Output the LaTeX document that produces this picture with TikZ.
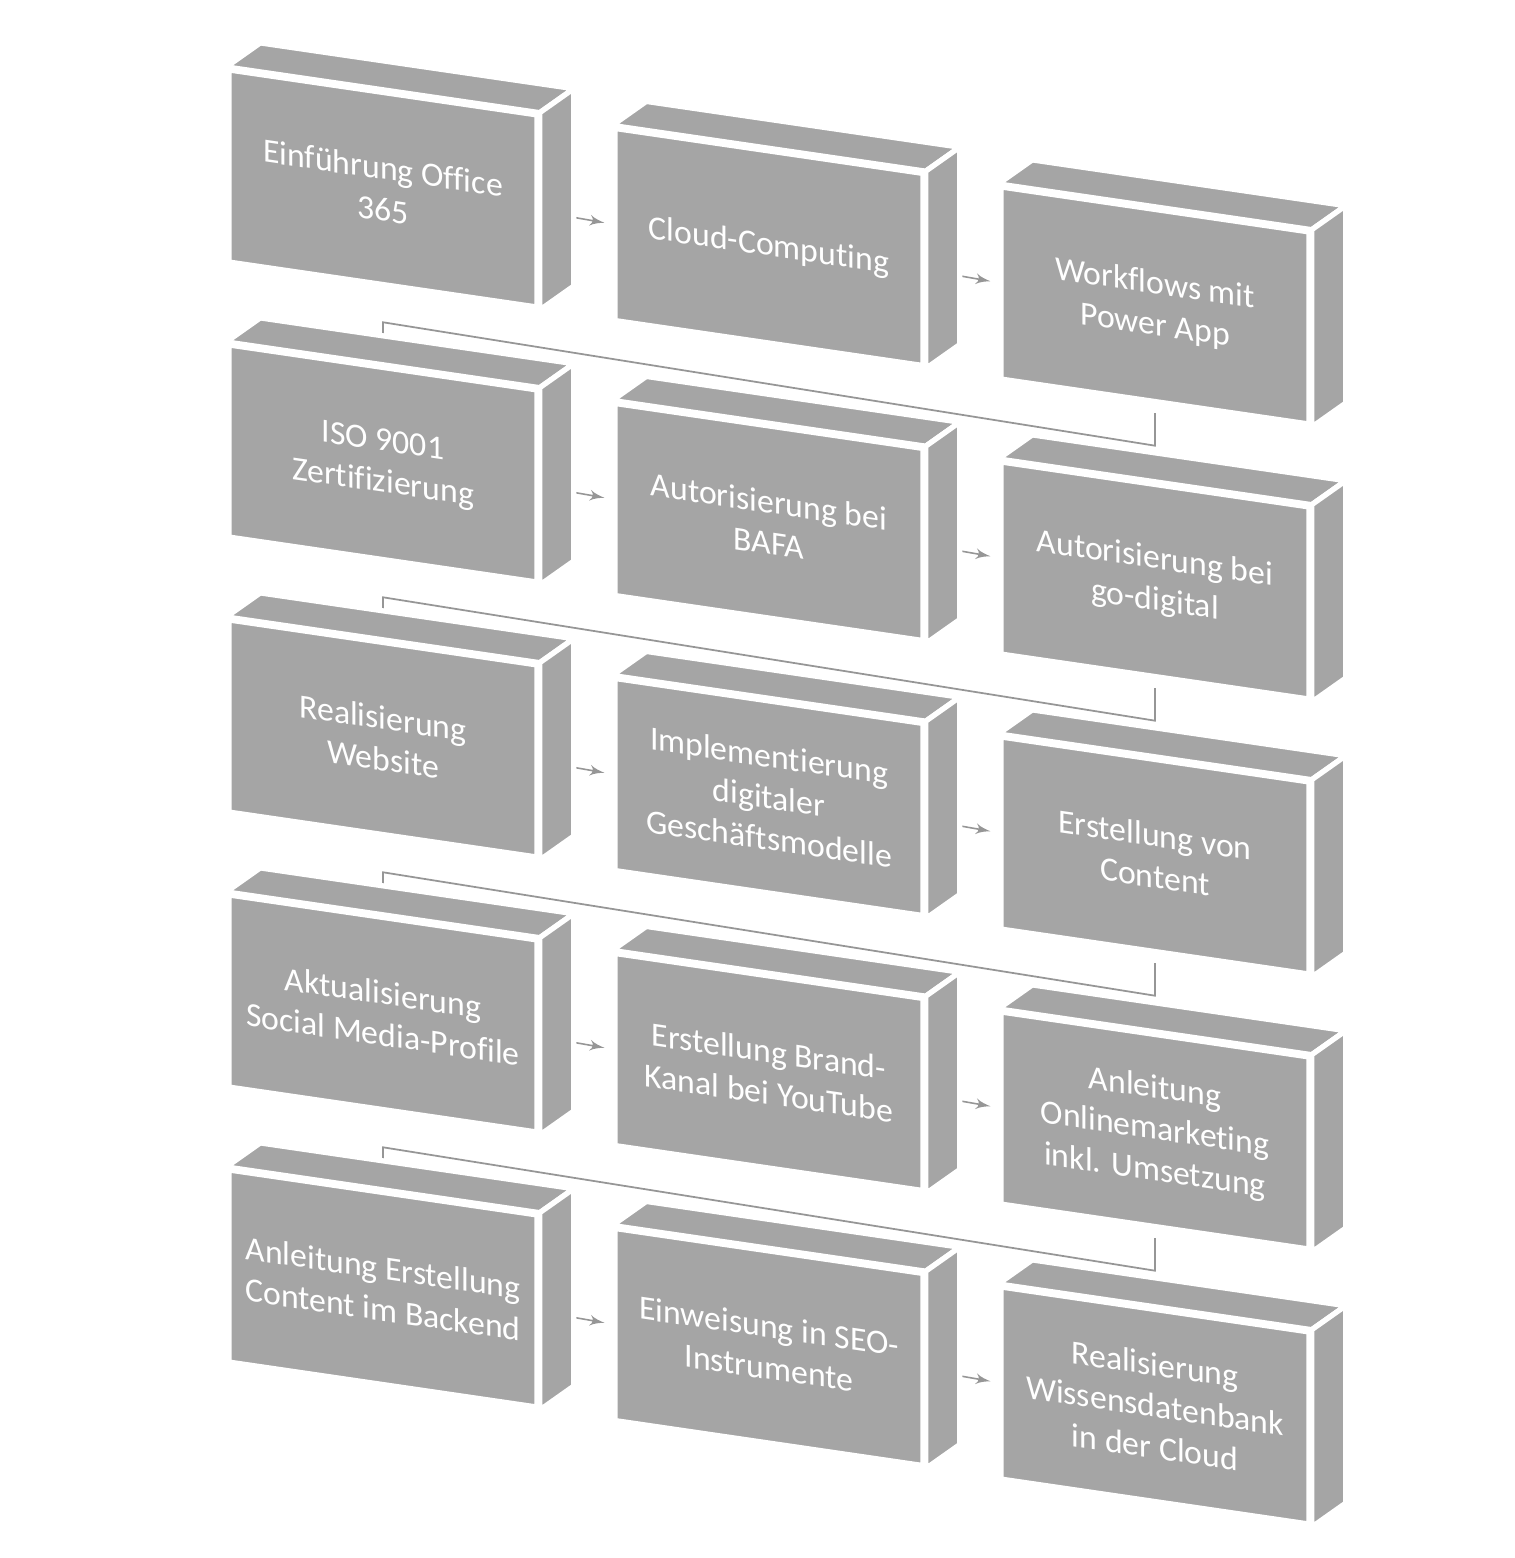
\documentclass[tikz,border=0pt]{standalone}
\usepackage{fontspec}
\setmainfont{Carlito}[Ligatures=NoCommon]
\usepackage{tikz}
\usetikzlibrary{arrows,backgrounds}
\definecolor{boxgray}{RGB}{165,165,165}
\definecolor{linkgray}{RGB}{150,150,150}
\tikzset{cube/.style = {shape=rectangle, fill=boxgray, draw=white, line width=1.5pt, minimum width=3.08cm, minimum height=1.92cm, inner sep=0pt, yslant=-0.146, align=center, text=white, font=\fontsize{9.6}{11.8}\selectfont}}
\tikzset{face/.style = {fill=boxgray, draw=white, line width=1.5pt, line join=round}}
\tikzset{link/.style = {->,> = latex', draw=linkgray, line width=0.45pt, shorten >=0.08cm}}
\tikzset{rowlink/.style = {-, draw=linkgray, line width=0.5pt}}

\begin{document}
\begin{tikzpicture}[x=0.01cm, y=-0.01cm]
\useasboundingbox (0,0) rectangle (1514,1558);
% boxes
\node[cube] (b1) at (383,188.5) {Einführung Office\\365};
\node[cube] (b2) at (769,247) {Cloud-Computing};
\node[cube] (b3) at (1155,305.5) {Workflows mit\\Power App};
\node[cube] (b4) at (383,463.5) {ISO 9001\\Zertifizierung};
\node[cube] (b5) at (769,522) {Autorisierung bei\\BAFA};
\node[cube] (b6) at (1155,580.5) {Autorisierung bei\\go-digital};
\node[cube] (b7) at (383,738.5) {Realisierung\\Website};
\node[cube] (b8) at (769,797) {Implementierung\\digitaler\\Geschäftsmodelle};
\node[cube] (b9) at (1155,855.5) {Erstellung von\\Content};
\node[cube] (b10) at (383,1013.5) {Aktualisierung\\Social Media-Profile};
\node[cube] (b11) at (769,1072) {Erstellung Brand-\\Kanal bei YouTube};
\node[cube] (b12) at (1155,1130.5) {Anleitung\\Onlinemarketing\\inkl. Umsetzung};
\node[cube] (b13) at (383,1288.5) {Anleitung Erstellung\\Content im Backend};
\node[cube] (b14) at (769,1347) {Einweisung in SEO-\\Instrumente};
\node[cube] (b15) at (1155,1405.5) {Realisierung\\Wissensdatenbank\\in der Cloud};
% top and side faces
\foreach \b in {b1,b2,b3,b4,b5,b6,b7,b8,b9,b10,b11,b12,b13,b14,b15}{
  \draw[face] (\b.north west) -- ([shift={(34,-24)}]\b.north west) -- ([shift={(34,-24)}]\b.north east) -- (\b.north east) -- cycle;
  \draw[face] (\b.north east) -- ([shift={(34,-24)}]\b.north east) -- ([shift={(34,-24)}]\b.south east) -- (\b.south east) -- cycle;
}
%edges
\begin{scope}[on background layer]
\foreach \a/\c in {b1/b2,b2/b3,b4/b5,b5/b6,b7/b8,b8/b9,b10/b11,b11/b12,b13/b14,b14/b15}
  \draw[link] (\a.east) -- (\c.west);
\foreach \a/\c in {b3/b4,b6/b7,b9/b10,b12/b13}
  \draw[rowlink, shorten <=0.09cm] (\a.south) -- ++(0,41.5) -- ([yshift=0.425cm]\c.north) -- (\c.north);
\end{scope}
\end{tikzpicture}
\end{document}
